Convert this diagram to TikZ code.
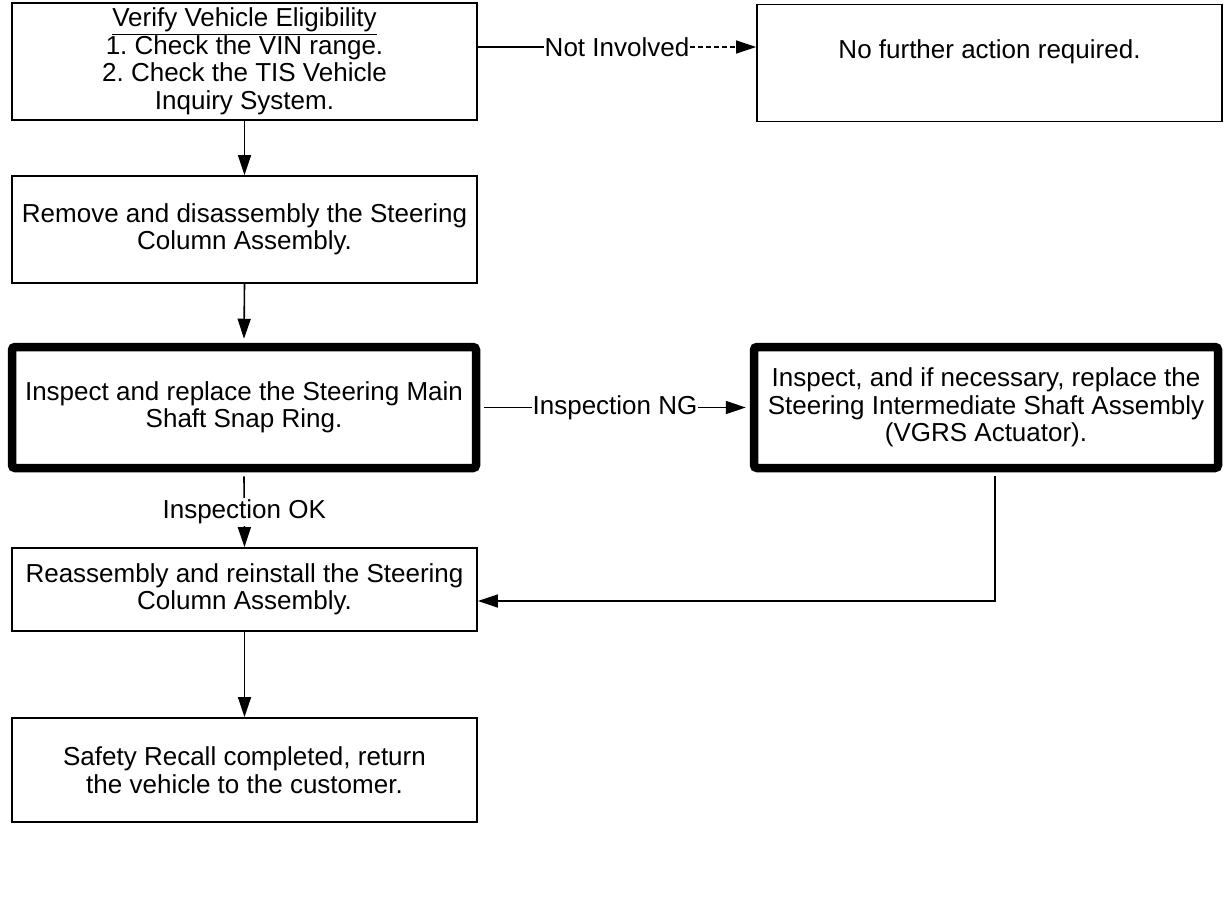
\documentclass[tikz,border=0pt]{standalone}
\usepackage{fontspec}
\setmainfont{Liberation Sans}
\usetikzlibrary{arrows.meta,calc}
\begin{document}
\frenchspacing
\begin{tikzpicture}[x=1pt,y=-1pt,
  font=\fontsize{26}{27.5}\selectfont,
  box/.style={draw, line width=1.8pt, minimum width=465pt, align=center, inner sep=0pt},
  thickbox/.style={draw, line width=8.5pt, rounded corners=3pt, minimum width=464pt, minimum height=121pt, align=center, inner sep=0pt},
  tip/.style={-{Triangle[length=20pt,width=13pt]}},
  arr/.style={line width=1.6pt, tip},
  lbl/.style={fill=white, inner sep=2pt}
]
\useasboundingbox (0,0) rectangle (1231,919);

\node[box, minimum height=117pt] (b1) at (244.5,61.5) {\underline{Verify Vehicle Eligibility}\\1. Check the VIN range.\\2. Check the TIS Vehicle\\Inquiry System.};
\node[box, minimum height=117pt] (nf) at (989.5,63) {No further action required.\\\mbox{}};
\node[box, minimum height=107pt] (b2) at (244.5,229.5) {Remove and disassembly the Steering\\Column Assembly.};
\node[thickbox] (b3) at (244,407.5) {Inspect and replace the Steering Main\\Shaft Snap Ring.};
\node[thickbox] (r3) at (986,407.5) {Inspect, and if necessary, replace the\\Steering Intermediate Shaft Assembly\\(VGRS Actuator).};
\node[box, minimum height=83pt] (b4) at (244.5,589.5) {Reassembly and reinstall the Steering\\Column Assembly.};
\node[box, minimum height=104pt] (b5) at (244.5,770) {Safety Recall completed, return\\the vehicle to the customer.};

\coordinate (ni) at ([yshift=14.5pt]b1.east);
\coordinate (ne) at (nf.west |- ni);
\node[inner sep=1pt] (lni) at ($(ni)!0.5!(ne)$) {Not Involved};
\draw[line width=1.6pt] (ni) -- (lni.west);
\draw[line width=1.2pt, dash pattern=on 5pt off 3pt] (lni.east) -- ([xshift=-18pt]ne);
\draw[arr] ([xshift=-19pt]ne) -- (ne);
\draw[arr] (b1.south) -- (b2.north);
\draw[arr] (b2.south) -- ([yshift=4pt]b3.north);
\draw[arr] ([xshift=4pt]b3.east) -- node[lbl, inner sep=1pt] (lng) {Inspection NG} ([xshift=-4pt]r3.west);
\draw[arr] ([yshift=-4pt]b3.south) -- node[lbl] (lok) {Inspection OK} (b4.north);
\coordinate (fb) at ([xshift=9pt, yshift=-4pt]r3.south);
\coordinate (fe) at ([yshift=-11.5pt]b4.east);
\draw[arr] (fb) |- (fe);
\draw[arr] (b4.south) -- (b5.north);
\end{tikzpicture}
\end{document}
